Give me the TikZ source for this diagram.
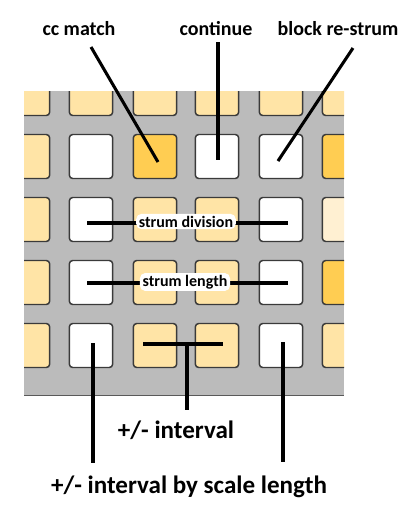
\documentclass[tikz,border=0pt]{standalone}
\usepackage{fontspec}
\setmainfont{Carlito}
\definecolor{panelgrey}{HTML}{BBBBBB}
\definecolor{cellY}{HTML}{FFE4A6}
\definecolor{cellO}{HTML}{FFCD52}
\definecolor{cellP}{HTML}{FFF0D2}
\definecolor{cellW}{HTML}{FFFFFF}
\definecolor{cellEdge}{HTML}{3A3A3A}
\tikzset{
  cellbox/.style={draw=cellEdge, line width=1.1pt, rounded corners=2.5pt, minimum width=32.5pt, minimum height=33pt, inner sep=0pt},
  conn/.style={line width=2.3pt, black},
  toplbl/.style={font=\fontsize{15}{18}\selectfont\bfseries, inner sep=0pt},
  botlbl/.style={font=\fontsize{18.8}{22}\selectfont\bfseries, inner sep=0pt},
  inlbl/.style={font=\fontsize{12}{14}\selectfont\bfseries, fill=white, rounded corners=4pt, inner xsep=2pt, inner ysep=1.5pt},
}
\begin{document}
\begin{tikzpicture}[x=0.75pt,y=-0.75pt]
\useasboundingbox (0,0) rectangle (406,508);
\fill[white] (0,0) rectangle (406,508);
% panel
\fill[panelgrey] (24,91) rectangle (344,396);
\draw[gray!70!black, line width=0.6pt] (24,395) -- (344,395);
\begin{scope}
\clip (24,91) rectangle (344,394);
\foreach \r/\y in {0/93.5,1/156.5,2/219.5,3/282.5,4/345.5}{
  \foreach \c/\x in {0/28,1/91,2/155,3/217,4/281,5/344}{
    \pgfmathtruncatemacro{\k}{\r*6+\c}
    \ifcase\k
      \def\col{cellY}\or\def\col{cellY}\or\def\col{cellY}\or\def\col{cellY}\or\def\col{cellY}\or\def\col{cellY}\or
      \def\col{cellY}\or\def\col{cellW}\or\def\col{cellO}\or\def\col{cellW}\or\def\col{cellW}\or\def\col{cellO}\or
      \def\col{cellY}\or\def\col{cellW}\or\def\col{cellY}\or\def\col{cellY}\or\def\col{cellW}\or\def\col{cellP}\or
      \def\col{cellY}\or\def\col{cellW}\or\def\col{cellY}\or\def\col{cellY}\or\def\col{cellW}\or\def\col{cellO}\or
      \def\col{cellY}\or\def\col{cellW}\or\def\col{cellY}\or\def\col{cellY}\or\def\col{cellW}\or\def\col{cellY}\fi
    \node[cellbox, fill=\col] (c-\r-\c) at (\x,\y) {};
  }
}
\end{scope}
% labels
\node[toplbl] (lcc) at (79,29) {cc match};
\node[toplbl] (lcont) at (216,29) {continue};
\node[toplbl] (lblock) at (338,29) {block re-strum};
\node[botlbl] (lint) at (176,430) {+/- interval};
\node[botlbl] (lscale) at (189,487) {+/- interval by scale length};
% connector endpoints
\coordinate (ccA) at (91,47);
\coordinate (ccB) at (158,162);
\coordinate (coA) at (218,42);
\coordinate (coB) at (218,160);
\coordinate (blA) at (353,48);
\coordinate (blB) at (278,161);
\coordinate (sdL) at (87,223);
\coordinate (sdR) at (288,223);
\coordinate (slL) at (87,283);
\coordinate (slR) at (288,283);
\coordinate (ivL) at (143,344);
\coordinate (ivR) at (223,344);
\coordinate (ivM) at (187,344);
\coordinate (ivD) at (187,410);
\coordinate (lvA) at (93,343);
\coordinate (lvB) at (93,463);
\coordinate (rvA) at (283,342);
\coordinate (rvB) at (283,462);
\draw[conn] (ccA) -- (ccB);
\draw[conn] (coA) -- (coB);
\draw[conn] (blA) -- (blB);
\draw[conn] (sdL) -- (sdR);
\draw[conn] (slL) -- (slR);
\draw[conn] (ivL) -- (ivR);
\draw[conn] (ivM) -- (ivD);
\draw[conn] (lvA) -- (lvB);
\draw[conn] (rvA) -- (rvB);
\node[inlbl] (lsd) at (186,221.5) {strum division};
\node[inlbl] (lsl) at (185,282) {strum length};
\end{tikzpicture}
\end{document}
